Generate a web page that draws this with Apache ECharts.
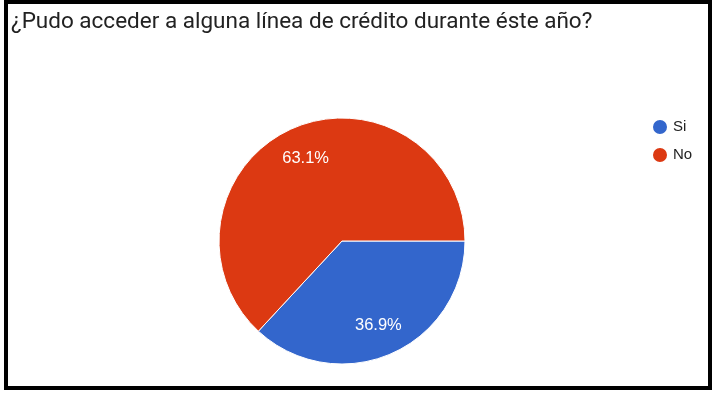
<!DOCTYPE html>
<html>
<head>
<meta charset="utf-8">
<script src="https://cdn.jsdelivr.net/npm/echarts@6/dist/echarts.min.js"></script>
<style>
html,body{margin:0;padding:0;background:#fff;}
#chart{width:714px;height:394px;}
</style>
</head>
<body>
<div id="chart"></div>
<script>
const titleText = '¿Pudo acceder a alguna línea de crédito durante éste año?';
const categories = ['Si', 'No'];
const values = [36.9, 63.1];
const colors = ['#3366cc', '#dc3912'];

const chart = echarts.init(document.getElementById('chart'), null, {renderer: 'canvas'});
const pieData = categories.map((c, i) => ({name: c, value: values[i], itemStyle: {color: colors[i]}}));
const labelData = categories.map((c, i) => ({name: c, value: values[i]}));

chart.setOption({
  animation: false,
  backgroundColor: '#fff',
  title: {
    text: titleText,
    left: 11,
    top: 11,
    padding: 0,
    textStyle: {fontFamily: 'Roboto', fontSize: 22.5, fontWeight: 'normal', color: '#222'}
  },
  legend: {
    orient: 'vertical',
    left: 651,
    top: 118,
    padding: 0,
    icon: 'circle',
    itemWidth: 16,
    itemHeight: 16,
    itemGap: 10,
    data: categories,
    textStyle: {fontFamily: 'Liberation Sans, Arial', fontSize: 15, color: '#222', lineHeight: 16}
  },
  graphic: [{
    type: 'rect',
    shape: {x: 6, y: 2, width: 704, height: 386},
    style: {fill: 'none', stroke: '#000', lineWidth: 4},
    silent: true,
    z: 100
  }],
  series: [{
    type: 'pie',
    center: [342, 241],
    radius: [0, 123],
    startAngle: 0,
    clockwise: true,
    data: pieData,
    label: {show: false},
    labelLine: {show: false},
    itemStyle: {borderColor: '#fff', borderWidth: 1},
    emphasis: {disabled: true}
  }, {
    type: 'pie',
    center: [342, 242],
    radius: [53, 123],
    startAngle: 0,
    clockwise: true,
    silent: true,
    data: labelData,
    itemStyle: {color: 'rgba(0,0,0,0)', borderWidth: 0},
    label: {
      show: true,
      position: 'inside',
      formatter: p => p.value.toFixed(1) + '%',
      fontFamily: 'Liberation Sans, Arial',
      fontSize: 16.5,
      color: '#fff'
    },
    labelLine: {show: false},
    emphasis: {disabled: true}
  }]
});
</script>
</body>
</html>
